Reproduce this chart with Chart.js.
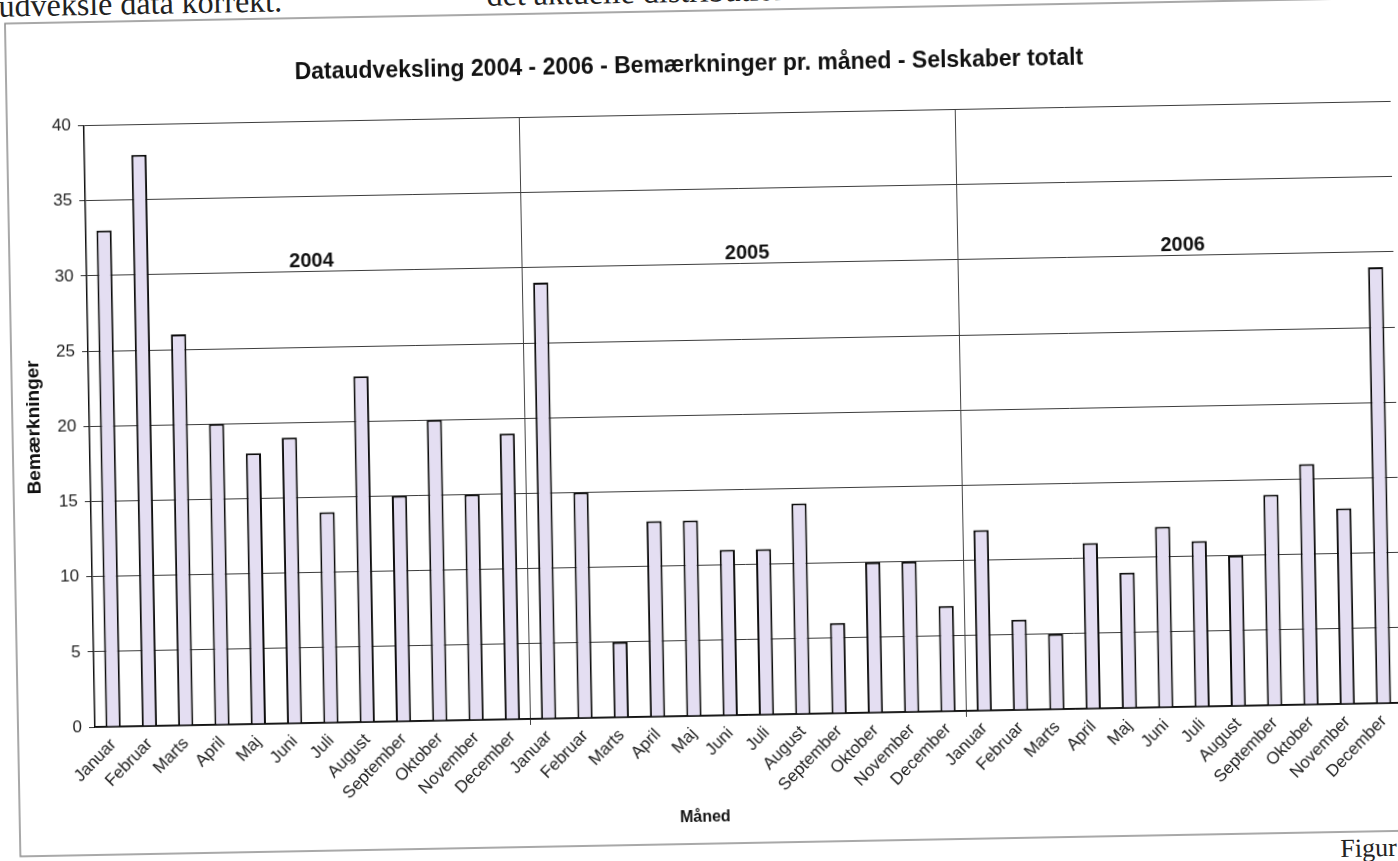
<!DOCTYPE html>
<html>
<head>
<meta charset="utf-8">
<script src="https://cdn.jsdelivr.net/npm/chart.js@4.4.1/dist/chart.umd.min.js"></script>
<style>
    body { margin: 0; background: #fff; overflow: hidden; width: 1398px; height: 861px; position: relative; }
    #page { position: absolute; left: 0; top: 0; width: 1420px; height: 900px; transform: rotate(-1.06deg); transform-origin: 95px 727px; }
    #chart { position: absolute; left: 0; top: 0; }
    .scan { position: absolute; font-family: "Liberation Serif", serif; color: #222; white-space: nowrap; line-height: 32px; }
</style>
</head>
<body>
<div id="page">
    <div class="scan" style="left: 12px; top: -12px; font-size: 32px;">udveksle data korrekt.</div>
    <div class="scan" style="left: 500px; top: -14px; font-size: 32px;">det aktuelle distribution</div>
    <div class="scan" style="left: 1338px; top: 856px; font-size: 26px;">Figur</div>
    <canvas id="chart" width="1420" height="861"></canvas>
</div>
<script>
const months = ['Januar', 'Februar', 'Marts', 'April', 'Maj', 'Juni', 'Juli', 'August', 'September', 'Oktober', 'November', 'December']
const years = ['2004', '2005', '2006']

// bemærkninger pr. måned
const remarks2004 = [33, 38, 26, 20, 18, 19, 14, 23, 15, 20, 15, 19]
const remarks2005 = [29, 15, 5, 13, 13, 11, 11, 14, 6, 10, 10, 7]
const remarks2006 = [12, 6, 5, 11, 9, 12, 11, 10, 14, 16, 13, 29]

const yMin = 0
const yMax = 40
const yStep = 5

const chartTitle = 'Dataudveksling 2004 - 2006 - Bemærkninger pr. måned - Selskaber totalt'
const yTitle = 'Bemærkninger'
const xTitle = 'Måned'

const labels = years.flatMap(() => months)
const values = [...remarks2004, ...remarks2005, ...remarks2006]

Chart.defaults.font.family = '"Liberation Sans", Arial, sans-serif'
Chart.defaults.color = '#1c1c1c'

// ramme rundt om hele diagrammet (som i Excel)
const outerFrame = {
    id: 'outerFrame',
    beforeDraw(chart) {
        const ctx = chart.ctx
        ctx.save()
        ctx.strokeStyle = '#8c8c8c'
        ctx.lineWidth = 1.5
        ctx.strokeRect(18, 22, 1500, 833)
        ctx.restore()
    }
}

// årstal over hver gruppe og akse-titlen "Måned" (lidt til venstre for midten, som i Excel)
const extraLabels = {
    id: 'extraLabels',
    afterDatasetsDraw(chart) {
        const { ctx, chartArea, scales: { x, y } } = chart
        ctx.save()
        ctx.fillStyle = '#111'
        ctx.textAlign = 'center'
        ctx.textBaseline = 'middle'
        ctx.font = 'bold 20px "Liberation Sans", Arial, sans-serif'
        years.forEach((year, i) => {
            ctx.fillText(year, x.getPixelForValue(i * months.length + 5.7), y.getPixelForValue(30.7))
        })
        ctx.font = 'bold 16px "Liberation Sans", Arial, sans-serif'
        ctx.fillText(xTitle, (chartArea.left + chartArea.right) / 2 - 45, 829)
        ctx.restore()
    }
}

const chart = new Chart(document.querySelector('#chart'), {
    type: 'bar',
    data: {
        labels,
        datasets: [{
            data: values,
            backgroundColor: '#e4def2',
            borderColor: '#0d0d0d',
            borderWidth: 2,
            barPercentage: 0.42,
            categoryPercentage: 1
        }]
    },
    options: {
        responsive: false,
        devicePixelRatio: 1,
        animation: false,
        layout: { padding: { left: 0, top: 0, right: 18, bottom: 0 } },
        plugins: {
            legend: { display: false },
            tooltip: { enabled: false },
            title: {
                display: true,
                text: chartTitle,
                color: '#111',
                font: { size: 23, weight: 'bold' },
                padding: { top: 63, bottom: 35 }
            }
        },
        scales: {
            x: {
                afterFit(scale) { scale.height = 134 },
                grid: {
                    offset: true,
                    color: ctx => (ctx.index % months.length === 0 && ctx.index > 0) ? '#444' : 'rgba(0,0,0,0)',
                    lineWidth: 1,
                    tickLength: 6
                },
                border: { display: true, color: '#111', width: 1.5 },
                ticks: {
                    autoSkip: false,
                    minRotation: 45,
                    maxRotation: 45,
                    padding: 2,
                    color: '#222',
                    font: { size: 17 }
                },
                title: { display: false }
            },
            y: {
                min: yMin,
                max: yMax,
                afterFit(scale) { scale.width = 95 },
                grid: { color: '#3c3c3c', lineWidth: 1, tickLength: 6, tickColor: '#333' },
                border: { display: true, color: '#111', width: 1.5 },
                ticks: {
                    stepSize: yStep,
                    padding: 7,
                    color: '#222',
                    font: { size: 17 }
                },
                title: {
                    display: true,
                    text: yTitle,
                    color: '#111',
                    font: { size: 19, weight: 'bold' },
                    padding: { top: 28, bottom: 0 }
                }
            }
        }
    },
    plugins: [outerFrame, extraLabels]
})
</script>
</body>
</html>
